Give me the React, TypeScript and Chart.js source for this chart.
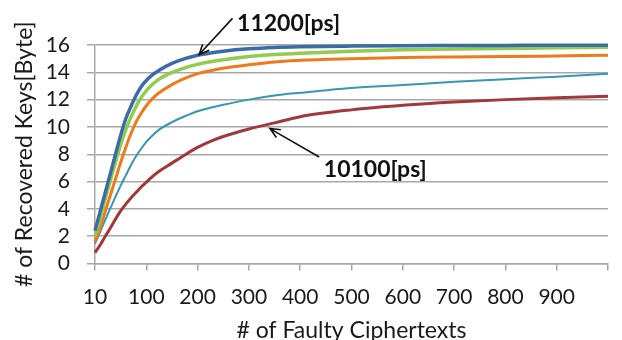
import React, { useEffect, useRef } from 'react';
import { Chart, registerables } from 'chart.js';

Chart.register(...registerables);

// Number of faulty ciphertexts (axis units; the first position is labelled "10")
const xValues = [0, 10, 20, 30, 40, 50, 60, 70, 80, 90, 100, 110, 125, 150, 175, 200, 225, 250, 300, 350, 400, 500, 600, 700, 800, 900, 1000];
const xTickLabels = ['10', '100', '200', '300', '400', '500', '600', '700', '800', '900', ''];

// Recovered key bytes per clock period
const keys11200ps = [2.4, 3.8, 5.2, 6.6, 8.0, 9.4, 10.6, 11.5, 12.3, 12.95, 13.4, 13.75, 14.15, 14.65, 15.0, 15.25, 15.42, 15.55, 15.72, 15.82, 15.87, 15.92, 15.95, 15.96, 15.97, 15.98, 15.98];
const keysGreen = [2.0, 3.3, 4.7, 6.1, 7.4, 8.7, 9.8, 10.7, 11.5, 12.15, 12.65, 13.05, 13.5, 13.98, 14.33, 14.58, 14.77, 14.92, 15.15, 15.3, 15.4, 15.55, 15.65, 15.7, 15.75, 15.8, 15.83];
const keysOrange = [1.6, 2.6, 3.8, 5.0, 6.2, 7.4, 8.5, 9.5, 10.35, 11.0, 11.55, 12.0, 12.5, 13.1, 13.55, 13.9, 14.12, 14.3, 14.55, 14.75, 14.88, 15.0, 15.08, 15.12, 15.15, 15.2, 15.25];
const keysTeal = [1.45, 2.3, 3.2, 4.05, 4.9, 5.7, 6.45, 7.2, 7.85, 8.4, 8.9, 9.3, 9.8, 10.35, 10.78, 11.15, 11.4, 11.62, 12.0, 12.3, 12.5, 12.85, 13.07, 13.3, 13.5, 13.68, 13.9];
const keys10100ps = [0.8, 1.35, 2.0, 2.6, 3.25, 3.85, 4.35, 4.8, 5.2, 5.6, 5.95, 6.3, 6.75, 7.35, 7.95, 8.5, 8.95, 9.3, 9.85, 10.3, 10.75, 11.25, 11.58, 11.82, 12.0, 12.13, 12.25];

const yTickValues = [0, 2, 4, 6, 8, 10, 12, 14, 16];

const annotations = [
  { text: '11200[ps]', tip: [203, 15.3], tail: [268, 17.95], label: [277, 17.55] },
  { text: '10100[ps]', tip: [341, 9.88], tail: [437, 7.8], label: [446, 6.9] },
];

const FONT = 'Lato';

const toPoints = (ys: number[]) => ys.map((y, i) => ({ x: xValues[i], y }));

const annotationPlugin = {
  id: 'arrowNotes',
  afterDatasetsDraw(chart: any) {
    const { ctx, scales } = chart;
    const sx = scales.x, sy = scales.y;
    ctx.save();
    annotations.forEach((a) => {
      const tx = sx.getPixelForValue(a.tip[0]);
      const ty = sy.getPixelForValue(a.tip[1]);
      const fx = sx.getPixelForValue(a.tail[0]);
      const fy = sy.getPixelForValue(a.tail[1]);
      ctx.strokeStyle = '#111';
      ctx.lineWidth = 1.6;
      ctx.beginPath();
      ctx.moveTo(fx, fy);
      ctx.lineTo(tx, ty);
      const ang = Math.atan2(ty - fy, tx - fx);
      const len = 11, spread = 0.42;
      ctx.moveTo(tx - len * Math.cos(ang - spread), ty - len * Math.sin(ang - spread));
      ctx.lineTo(tx, ty);
      ctx.lineTo(tx - len * Math.cos(ang + spread), ty - len * Math.sin(ang + spread));
      ctx.stroke();
      ctx.fillStyle = '#111';
      ctx.font = `bold 23px ${FONT}`;
      ctx.textAlign = 'left';
      ctx.textBaseline = 'middle';
      ctx.fillText(a.text, sx.getPixelForValue(a.label[0]), sy.getPixelForValue(a.label[1]));
    });
    ctx.restore();
  },
};

export default function App() {
  const ref = useRef<HTMLCanvasElement>(null);
  useEffect(() => {
    const mk = (label: string, ys: number[], color: string, width: number) => ({
      label,
      data: toPoints(ys),
      borderColor: color,
      backgroundColor: color,
      borderWidth: width,
      pointRadius: 0,
      cubicInterpolationMode: 'monotone' as const,
      clip: 6,
    });
    const chart = new Chart(ref.current!, {
      type: 'line',
      data: {
        datasets: [
          mk('11200[ps]', keys11200ps, '#3C6CA8', 3.5),
          mk('green', keysGreen, '#8FCC50', 3.5),
          mk('orange', keysOrange, '#EE7A1C', 3),
          mk('teal', keysTeal, '#3598B2', 2),
          mk('10100[ps]', keys10100ps, '#A2383A', 3),
        ],
      },
      options: {
        animation: false,
        responsive: true,
        maintainAspectRatio: false,
        layout: { padding: { left: 0, right: 4.5, top: 45, bottom: 0 } },
        plugins: { legend: { display: false }, tooltip: { enabled: false } },
        scales: {
          x: {
            type: 'linear',
            min: 0,
            max: 1000,
            afterFit: (s: any) => { s.height = 76.5; },
            afterBuildTicks: (s: any) => { s.ticks = xTickLabels.map((_, i) => ({ value: i * 100 })); },
            ticks: {
              autoSkip: false,
              maxRotation: 0,
              padding: 14,
              color: '#1a1a1a',
              font: { family: FONT, size: 21 },
              callback: (_v: any, i: number) => xTickLabels[i],
            },
            grid: { drawOnChartArea: false, drawTicks: true, tickLength: 7, color: '#A8A8A8', lineWidth: 1.5 },
            border: { color: '#A8A8A8', width: 1.5 },
            title: {
              display: true,
              text: '# of Faulty Ciphertexts',
              color: '#1a1a1a',
              font: { family: FONT, size: 23, lineHeight: 0.85 },
              padding: { top: 0, bottom: 0 },
            },
          },
          y: {
            min: 0,
            max: 16,
            afterFit: (s: any) => { s.width = 95; },
            afterBuildTicks: (s: any) => { s.ticks = yTickValues.map((v) => ({ value: v })); },
            ticks: {
              autoSkip: false,
              padding: 17,
              color: '#1a1a1a',
              font: { family: FONT, size: 21 },
            },
            grid: { color: '#A8A8A8', lineWidth: 1.5, tickLength: 8 },
            border: { color: '#A8A8A8', width: 1.5 },
            title: {
              display: true,
              text: '# of Recovered Keys[Byte]',
              color: '#1a1a1a',
              font: { family: FONT, size: 23 },
              padding: { top: 11, bottom: 0 },
            },
          },
        },
      },
      plugins: [annotationPlugin],
    });
    return () => chart.destroy();
  }, []);
  return (
    <div style={{ position: 'absolute', left: 0, top: 0, width: 622, height: 340, background: '#fff' }}>
      <canvas ref={ref} />
    </div>
  );
}
